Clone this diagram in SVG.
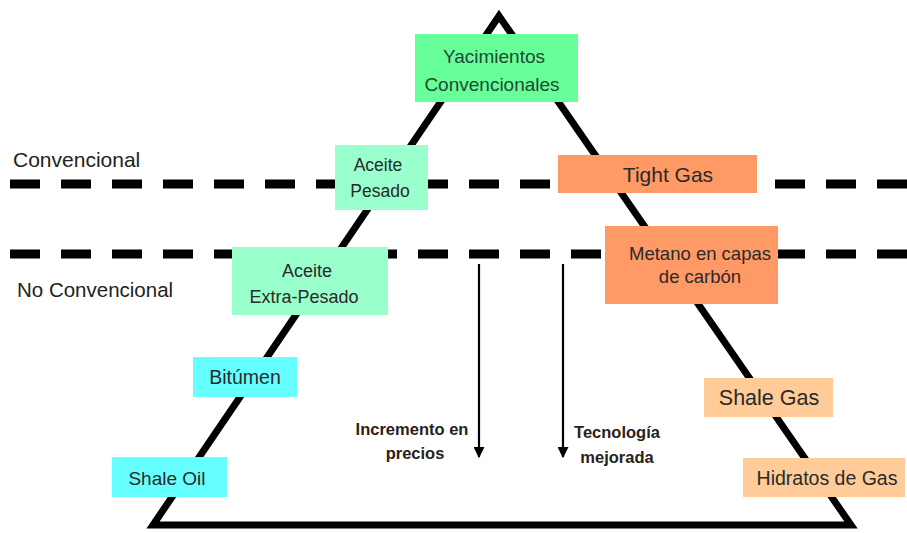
<svg xmlns="http://www.w3.org/2000/svg" width="907" height="533" viewBox="0 0 907 533">
<style>
.lbl{font-family:"Liberation Sans",Arial,sans-serif;fill:#222;}
.box text{font-family:"Liberation Sans",Arial,sans-serif;fill:#2a2a2a;text-anchor:middle;}
.note{font-family:"Liberation Sans",Arial,sans-serif;font-weight:bold;fill:#2b2118;text-anchor:middle;font-size:16.5px;}
.dash{stroke:#000;stroke-width:9;stroke-dasharray:30 21;fill:none;}
.arr{stroke:#000;stroke-width:2.2;fill:none;marker-end:url(#ah);}
</style>
<defs>
<marker id="ah" viewBox="0 0 10 10" refX="9" refY="5" markerWidth="5" markerHeight="5" orient="auto" markerUnits="strokeWidth">
<path d="M0,0 L10,5 L0,10 z" fill="#000"/>
</marker>
</defs>
<rect width="907" height="533" fill="#fff"/>
<polygon points="499,16 153,525 851,525" fill="none" stroke="#000" stroke-width="7" stroke-linejoin="miter"/>
<g id="connectors">
<line class="dash" x1="10" y1="184" x2="907" y2="184"/>
<line class="dash" x1="10" y1="254" x2="907" y2="254"/>
<line class="arr" x1="479" y1="264" x2="479" y2="457"/>
<line class="arr" x1="563" y1="264" x2="563" y2="457"/>
</g>
<text class="lbl" x="13" y="167" font-size="21">Convencional</text>
<text class="lbl" x="17" y="297" font-size="20.5">No Convencional</text>
<text class="note" x="412" y="435">Incremento en</text>
<text class="note" x="415" y="459">precios</text>
<text class="note" x="617" y="438">Tecnología</text>
<text class="note" x="617" y="463">mejorada</text>
<g id="yacimientos" class="box">
<rect x="415" y="34" width="163" height="68" fill="#66ff99"/>
<text x="494" y="63" font-size="19" style="fill:#1f4a33">Yacimientos</text>
<text x="492" y="91" font-size="19" style="fill:#1f4a33">Convencionales</text>
</g>
<g id="aceite-pesado" class="box">
<rect x="335" y="145" width="93" height="65" fill="#99ffcc"/>
<text x="378" y="171" font-size="17.5">Aceite</text>
<text x="380" y="197" font-size="17.5">Pesado</text>
</g>
<g id="aceite-extra" class="box">
<rect x="232" y="247" width="156" height="68" fill="#99ffcc"/>
<text x="307" y="277" font-size="18">Aceite</text>
<text x="304" y="303" font-size="18">Extra-Pesado</text>
</g>
<g id="bitumen" class="box">
<rect x="193" y="357" width="104" height="40" fill="#66ffff"/>
<text x="245" y="384" font-size="19.5">Bitúmen</text>
</g>
<g id="shale-oil" class="box">
<rect x="112" y="457" width="115" height="40" fill="#66ffff"/>
<text x="167" y="485" font-size="19">Shale Oil</text>
</g>
<g id="tight-gas" class="box">
<rect x="558" y="155" width="199" height="38" fill="#ff9966"/>
<text x="668" y="182" font-size="21">Tight Gas</text>
</g>
<g id="metano" class="box">
<rect x="605" y="226" width="173" height="78" fill="#ff9966"/>
<text x="700" y="260" font-size="18.5">Metano en capas</text>
<text x="700" y="283" font-size="18.5">de carbón</text>
</g>
<g id="shale-gas" class="box">
<rect x="704" y="378" width="129" height="39" fill="#ffcc99"/>
<text x="769" y="405" font-size="21.5">Shale Gas</text>
</g>
<g id="hidratos" class="box">
<rect x="743" y="458" width="162" height="39" fill="#ffcc99"/>
<text x="827" y="485" font-size="19.5">Hidratos de Gas</text>
</g>
</svg>
